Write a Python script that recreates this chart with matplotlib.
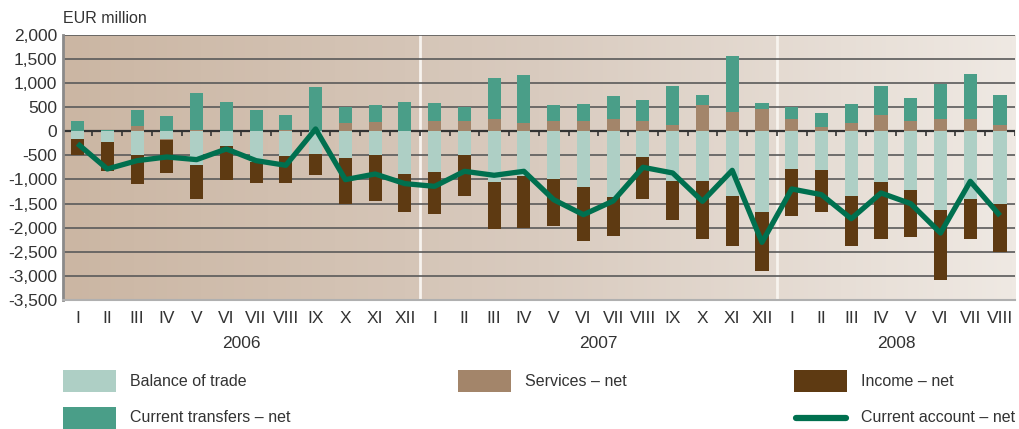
import matplotlib
matplotlib.use("Agg")
import matplotlib.pyplot as plt
import matplotlib.colors as mcolors
from matplotlib.patches import Rectangle
from matplotlib.lines import Line2D
import numpy as np

plt.rcParams['font.family'] = ['Liberation Sans', 'DejaVu Sans']

# Monthly data, EUR million (Jan 2006 - Aug 2008)
months = ['I', 'II', 'III', 'IV', 'V', 'VI', 'VII', 'VIII', 'IX', 'X', 'XI', 'XII',
          'I', 'II', 'III', 'IV', 'V', 'VI', 'VII', 'VIII', 'IX', 'X', 'XI', 'XII',
          'I', 'II', 'III', 'IV', 'V', 'VI', 'VII', 'VIII']
years = ['2006', '2007', '2008']
year_len = [12, 12, 8]

trade = [-152, -214, -498, -152, -706, -311, -637, -519, -464, -547, -484, -879,
         -837, -484, -1059, -934, -983, -1149, -1363, -526, -1024, -1024, -1336, -1668,
         -775, -796, -1336, -1045, -1211, -1626, -1398, -1502]
services = [0, 0, 118, -35, 18, 0, 0, 20, 10, 180, 201, 0,
            221, 221, 249, 166, 221, 221, 263, 221, 138, 547, 393, 464,
            249, 97, 166, 339, 221, 249, 249, 138]
transfers = [221, 35, 332, 325, 783, 616, 450, 326, 910, 332, 339, 602,
             360, 284, 851, 997, 319, 339, 464, 423, 796, 200, 1164, 117,
             263, 277, 394, 595, 464, 727, 934, 609]
income = [-346, -602, -602, -678, -692, -699, -443, -561, -449, -968, -969, -803,
          -886, -865, -976, -1080, -989, -1135, -817, -886, -810, -1204, -1038, -1238,
          -976, -886, -1038, -1183, -976, -1453, -830, -1003]
current_account = [-256, -782, -609, -533, -588, -367, -609, -706, 48, -1003, -886, -1086,
                   -1142, -830, -913, -830, -1419, -1730, -1446, -747, -865, -1453, -810, -2304,
                   -1197, -1315, -1813, -1280, -1502, -2111, -1038, -1751]

yticks = [2000, 1500, 1000, 500, 0, -500, -1000, -1500, -2000, -2500, -3000, -3500]

c_trade = '#aecfc5'
c_services = '#a3856a'
c_transfers = '#4a9e88'
c_income = '#5e3a12'
c_line = '#00704f'
c_text = '#333333'

fig = plt.figure(figsize=(10.19, 4.29), dpi=100)
ax = fig.add_axes([0.0615, 0.3007, 0.9345, 0.618])

x = np.arange(len(months))
ax.set_xlim(-0.5, len(months) - 0.5)
ax.set_ylim(-3500, 2000)

# background gradient
grad = mcolors.LinearSegmentedColormap.from_list('bg', ['#cbb6a3', '#d9cbbf', '#efe9e3'])
ax.imshow(np.linspace(0, 1, 256).reshape(1, -1), cmap=grad, aspect='auto',
          extent=(-0.5, len(months) - 0.5, -3500, 2000), zorder=0)

# year separators
b = 0
for n in year_len[:-1]:
    b += n
    ax.axvline(b - 0.5, color='#f7f3ee', lw=2, zorder=1)

for v in yticks:
    if v == 0:
        ax.axhline(v, color='#333333', lw=1.6, zorder=1)
    else:
        ax.axhline(v, color='#5a5a5a', lw=1.2, zorder=1)

# small ticks on zero line at month boundaries
ax.vlines(np.arange(len(months) + 1) - 0.5, -95, 0, color='#333333', lw=1.2, zorder=1)

# stacked bars
pos = np.zeros(len(months))
neg = np.zeros(len(months))
for vals, col in [(trade, c_trade), (services, c_services),
                  (transfers, c_transfers), (income, c_income)]:
    vals = np.array(vals, dtype=float)
    bottom = np.where(vals >= 0, pos, neg)
    ax.bar(x, vals, bottom=bottom, width=0.44, color=col, zorder=2, linewidth=0)
    pos = pos + np.clip(vals, 0, None)
    neg = neg + np.clip(vals, None, 0)

ax.plot(x, current_account, color=c_line, lw=3.8, zorder=3,
        solid_joinstyle='round', solid_capstyle='butt')

# axes styling
for s in ['top', 'right']:
    ax.spines[s].set_visible(False)
ax.spines['left'].set_color('#8a8a8a')
ax.spines['left'].set_linewidth(2)
ax.spines['bottom'].set_color('#b0b0b0')
ax.spines['bottom'].set_linewidth(1.5)

ax.set_yticks(yticks)
ax.set_yticklabels(['{:,}'.format(v) for v in yticks])
ax.set_xticks(x)
ax.set_xticklabels(months)
ax.tick_params(axis='both', length=0, labelsize=12.5, colors=c_text)
ax.tick_params(axis='x', pad=8)
ax.tick_params(axis='y', pad=4)

# year labels
start = 0
for yr, n in zip(years, year_len):
    ax.text(start + (n - 1) / 2, -0.135, yr, transform=ax.get_xaxis_transform(),
            ha='center', va='top', fontsize=12.5, color=c_text)
    start += n

fig.text(0.062, 0.958, 'EUR million', fontsize=11.5, color=c_text, va='center', ha='left')

# legend drawn by hand
W, H = fig.get_size_inches() * fig.dpi
def patch(x0, yc, col, label):
    fig.add_artist(Rectangle((x0 / W, 1 - (yc + 11) / H), 53 / W, 22 / H,
                             transform=fig.transFigure, color=col, lw=0))
    fig.text((x0 + 67) / W, 1 - yc / H, label, fontsize=11.5, color=c_text,
             va='center', ha='left')

patch(63, 381, c_trade, 'Balance of trade')
patch(458, 381, c_services, 'Services \u2013 net')
patch(794, 381, c_income, 'Income \u2013 net')
patch(63, 418, c_transfers, 'Current transfers \u2013 net')
fig.add_artist(Line2D([796 / W, 846 / W], [1 - 418 / H, 1 - 418 / H], transform=fig.transFigure,
                      color=c_line, lw=4.5, solid_capstyle='round'))
fig.text(861 / W, 1 - 418 / H, 'Current account \u2013 net', fontsize=11.5, color=c_text,
         va='center', ha='left')

fig.savefig('out.png', dpi=100)
